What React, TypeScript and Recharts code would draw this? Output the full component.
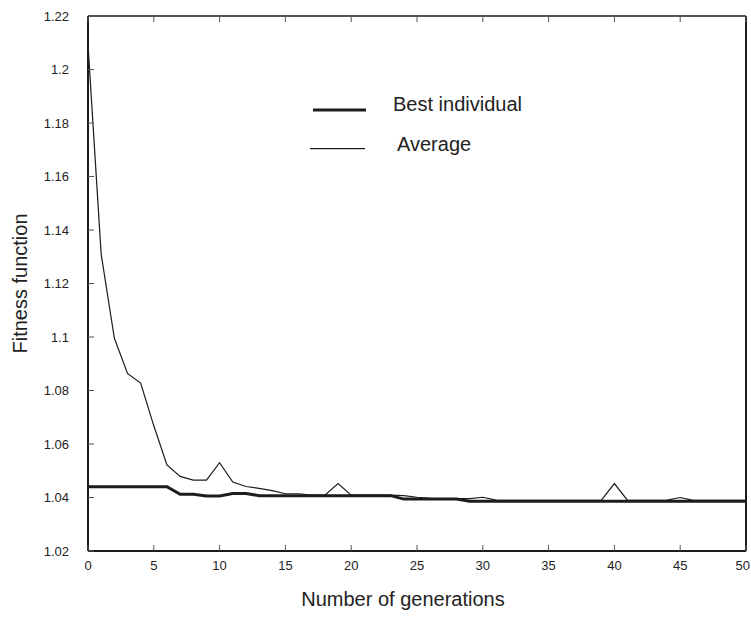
import React from 'react';
import { LineChart, Line, XAxis, YAxis, Legend } from 'recharts';

const generations = [0, 1, 2, 3, 4, 5, 6, 7, 8, 9, 10, 11, 12, 13, 14, 15, 16, 17, 18, 19, 20, 21, 22, 23, 24, 25, 26, 27, 28, 29, 30, 31, 32, 33, 34, 35, 36, 37, 38, 39, 40, 41, 42, 43, 44, 45, 46, 47, 48, 49, 50];

const bestIndividual = [
  1.044, 1.044, 1.044, 1.044, 1.044, 1.044, 1.044, 1.0412, 1.0412, 1.0406,
  1.0406, 1.0415, 1.0415, 1.0407, 1.0407, 1.0407, 1.0407, 1.0407, 1.0407, 1.0407,
  1.0407, 1.0407, 1.0407, 1.0407, 1.0394, 1.0394, 1.0394, 1.0394, 1.0394, 1.0386,
  1.0386, 1.0386, 1.0386, 1.0386, 1.0386, 1.0386, 1.0386, 1.0386, 1.0386, 1.0386,
  1.0386, 1.0386, 1.0386, 1.0386, 1.0386, 1.0386, 1.0386, 1.0386, 1.0386, 1.0386,
  1.0386,
];

const average = [
  1.2093, 1.131, 1.0996, 1.0864, 1.0828, 1.0668, 1.0522, 1.0479, 1.0465, 1.0465,
  1.053, 1.0458, 1.0441, 1.0434, 1.0426, 1.0414, 1.0414, 1.0409, 1.0409, 1.0452,
  1.0409, 1.0409, 1.0409, 1.0409, 1.0407, 1.0401, 1.0397, 1.0396, 1.0396, 1.0396,
  1.0401, 1.039, 1.0389, 1.0389, 1.0389, 1.0389, 1.0389, 1.0389, 1.0389, 1.0389,
  1.0452, 1.0389, 1.0389, 1.0389, 1.039, 1.04, 1.0389, 1.0389, 1.0389, 1.0389,
  1.0389,
];

const xTicks = [0, 5, 10, 15, 20, 25, 30, 35, 40, 45, 50];
const yTicks = [1.02, 1.04, 1.06, 1.08, 1.1, 1.12, 1.14, 1.16, 1.18, 1.2, 1.22];

const seriesNames = { best: 'Best individual', avg: 'Average' };
const xTitle = 'Number of generations';
const yTitle = 'Fitness function';

const data = generations.map((g, i) => ({ gen: g, best: bestIndividual[i], avg: average[i] }));

const FONT = '"Liberation Sans", Arial, Helvetica, sans-serif';
const INK = '#1c1c1c';
const TICK_INK = '#555';
const TICK_LEN = 6;
const LEFT_MARGIN = 19;
const BOTTOM_MARGIN = 14;
const CHART_W = 751;
const TICK_FONT = 13;

const fmt = (v: number) => String(Number(v.toFixed(2)));

const LeftTick = (props: any) => {
  const { x, y, payload } = props;
  return (
    <g>
      <text x={x} y={y} textAnchor="end" dominantBaseline="central" fontSize={TICK_FONT} fill="#222" fontFamily={FONT}>
        {fmt(payload.value)}
      </text>
      <line x1={x + LEFT_MARGIN} x2={x + LEFT_MARGIN + TICK_LEN} y1={y} y2={y} stroke={TICK_INK} strokeWidth={1} />
    </g>
  );
};

const RightTick = (props: any) => {
  const { x, y } = props;
  return <line x1={x - TICK_LEN} x2={x} y1={y} y2={y} stroke={TICK_INK} strokeWidth={1} />;
};

const BottomTick = (props: any) => {
  const { x, y, payload } = props;
  const label = String(payload.value);
  const half = (label.length * TICK_FONT * 0.556) / 2;
  const tx = Math.min(x, CHART_W - 1 - half);
  return (
    <g>
      <text x={tx} y={y} textAnchor="middle" dominantBaseline="central" fontSize={TICK_FONT} fill="#222" fontFamily={FONT}>
        {label}
      </text>
      <line x1={x} x2={x} y1={y - BOTTOM_MARGIN} y2={y - BOTTOM_MARGIN - TICK_LEN} stroke={TICK_INK} strokeWidth={1} />
    </g>
  );
};

const TopTick = (props: any) => {
  const { x, y } = props;
  return <line x1={x} x2={x} y1={y} y2={y + TICK_LEN} stroke={TICK_INK} strokeWidth={1} />;
};

const LegendContent = () => (
  <svg width={260} height={70} style={{ overflow: 'visible', display: 'block' }}>
    <line x1={13} x2={66} y1={20} y2={20} stroke={INK} strokeWidth={3} />
    <text x={93} y={13.5} dominantBaseline="central" fontSize={20} fill="#222" fontFamily={FONT}>
      {seriesNames.best}
    </text>
    <line x1={10} x2={65} y1={58.7} y2={58.7} stroke={INK} strokeWidth={1.2} />
    <text x={97} y={53.5} dominantBaseline="central" fontSize={20} fill="#222" fontFamily={FONT}>
      {seriesNames.avg}
    </text>
  </svg>
);

export default function App() {
  return (
    <div style={{ position: 'absolute', left: 0, top: 0, width: 751, height: 618, background: '#fff' }}>
      <LineChart
        width={751}
        height={618}
        data={data}
        margin={{ top: 0, right: 0, bottom: 0, left: 0 }}
        style={{ fontFamily: FONT }}
      >
        <XAxis
          xAxisId="bottom"
          dataKey="gen"
          type="number"
          domain={[0, 50]}
          ticks={xTicks}
          orientation="bottom"
          height={67}
          tickSize={0}
          tickMargin={BOTTOM_MARGIN}
          tick={BottomTick}
          axisLine={{ stroke: INK, strokeWidth: 2 }}
          tickLine={false}
          interval={0}
          label={{ value: xTitle, position: 'insideBottom', offset: 12, dx: -14, fontSize: 20, fill: '#222', fontFamily: FONT }}
        />
        <XAxis
          xAxisId="top"
          dataKey="gen"
          type="number"
          domain={[0, 50]}
          ticks={xTicks}
          orientation="top"
          height={16}
          tickSize={0}
          tickMargin={0}
          tick={TopTick}
          axisLine={{ stroke: INK, strokeWidth: 1.5 }}
          tickLine={false}
          interval={0}
        />
        <YAxis
          yAxisId="left"
          type="number"
          domain={[1.02, 1.22]}
          ticks={yTicks}
          orientation="left"
          width={88}
          tickSize={0}
          tickMargin={LEFT_MARGIN}
          tick={LeftTick}
          axisLine={{ stroke: INK, strokeWidth: 2 }}
          tickLine={false}
          interval={0}
          label={{ value: yTitle, angle: -90, position: 'insideLeft', offset: 20, fontSize: 20, fill: '#222', fontFamily: FONT, style: { textAnchor: 'middle' } }}
        />
        <YAxis
          yAxisId="right"
          type="number"
          domain={[1.02, 1.22]}
          ticks={yTicks}
          orientation="right"
          width={5}
          tickSize={0}
          tickMargin={0}
          tick={RightTick}
          axisLine={{ stroke: INK, strokeWidth: 2 }}
          tickLine={false}
          interval={0}
        />
        <Legend
          layout="vertical"
          align="center"
          verticalAlign="middle"
          content={LegendContent}
          wrapperStyle={{ left: 300, top: 90, width: 260, height: 70 }}
        />
        <Line
          xAxisId="bottom"
          yAxisId="left"
          type="linear"
          dataKey="avg"
          name={seriesNames.avg}
          stroke={INK}
          strokeWidth={1.2}
          dot={false}
          activeDot={false}
          isAnimationActive={false}
        />
        <Line
          xAxisId="bottom"
          yAxisId="left"
          type="linear"
          dataKey="best"
          name={seriesNames.best}
          stroke={INK}
          strokeWidth={3}
          dot={false}
          activeDot={false}
          isAnimationActive={false}
        />
      </LineChart>
    </div>
  );
}
